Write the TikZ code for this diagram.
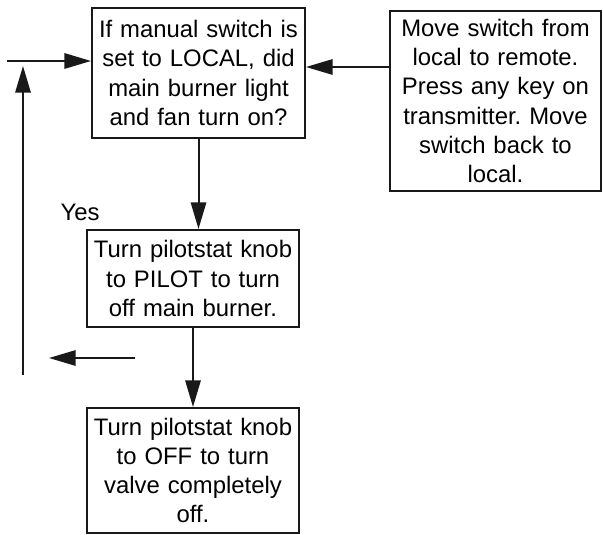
\documentclass[tikz,border=0pt]{standalone}
\usepackage{fontspec}
\setmainfont{Liberation Sans}
\usetikzlibrary{arrows.meta}
\begin{document}
\frenchspacing
\begin{tikzpicture}[x=0.75pt,y=-0.75pt,
  box/.style={draw=black!90, line width=1.5pt, align=center, inner sep=0pt,
    font=\fontsize{17.9pt}{21.8pt}\selectfont},
  conn/.style={line width=1.5pt, draw=black!90, -{Triangle[length=20pt,width=11.5pt]}}]
\useasboundingbox (0,0) rectangle (603,535);
\node[box, text width=158pt, minimum width=159.75pt, minimum height=97.5pt] (b1) at (198.5,73) {If manual switch is\\set to LOCAL, did\\main burner light\\and fan turn on?};
\node[box, text width=155pt, minimum width=158.25pt, minimum height=135pt] (br) at (495.5,101) {Move switch from\\local to remote.\\Press any key on\\transmitter. Move\\switch back to\\local.};
\node[box, text width=155pt, minimum width=159pt, minimum height=72.75pt] (b2) at (193,278.5) {Turn pilotstat knob\\to PILOT to turn\\off main burner.};
\node[box, text width=155pt, minimum width=159pt, minimum height=93.75pt] (b3) at (193,470.5) {Turn pilotstat knob\\to OFF to turn\\valve completely\\off.};
\node[font=\fontsize{17.9pt}{21.8pt}\selectfont] (yes) at (80,212) {Yes};
\coordinate (inL) at (7,61);
\coordinate (rr) at (390,67);
\coordinate (vb) at (23,375);
\coordinate (vt) at (23,66);
\coordinate (s1) at (135,358);
\coordinate (s2) at (49,358);
\draw[conn] (inL) -- (inL -| b1.west);
\draw[conn] (rr) -- (rr -| b1.east);
\draw[conn] (vb) -- (vt);
\draw[conn] (b1.south) -- (b1.south |- b2.north);
\draw[conn] (b2.south) -- (b3.north);
\draw[conn] (s1) -- (s2);
\end{tikzpicture}
\end{document}
